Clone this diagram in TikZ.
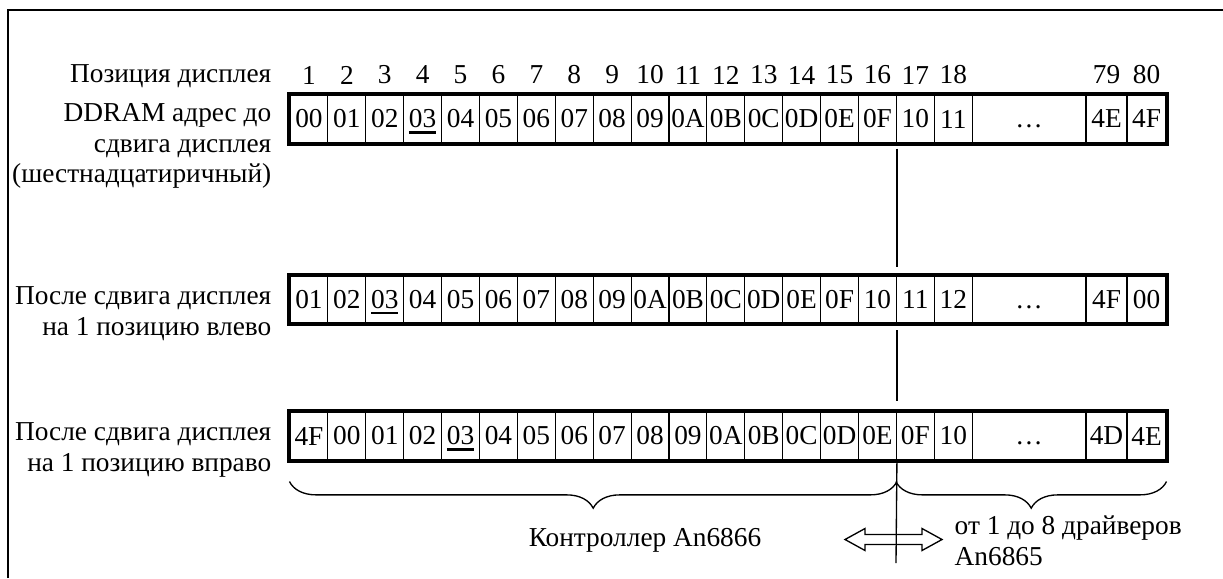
\documentclass[tikz,border=0pt]{standalone}
\usepackage{fontspec}
\setmainfont{Liberation Serif}
\usepackage{tikz}
\usetikzlibrary{positioning,calc,decorations.pathreplacing}

\tikzset{
  cell/.style={draw, line width=0.8pt, minimum width=28.425pt, minimum height=36pt, inner sep=0pt},
  rowbox/.style={line width=3pt},
  shiftline/.style={line width=1pt},
  underbrace/.style={decorate, decoration={brace, mirror, amplitude=20pt}, line width=1pt},
}
\newcommand{\ulcell}[1]{\setbox0=\hbox{#1}\rlap{\smash{\rule[-4.3pt]{\wd0}{2pt}}}\box0}
\newcommand{\celldots}{\vphantom{0}…}

\begin{document}
\begin{tikzpicture}[x=0.75pt,y=0.75pt,yscale=-1,xscale=1,font=\fontsize{20.5}{23}\selectfont]
\useasboundingbox (0,0) rectangle (1223,578);

%Frame
\draw[line width=1.5pt] (8,578) -- (8,10) -- (1223,10);

% Text Node
\draw (276,76) node [anchor=east] (poslbl) {Позиция дисплея};
\foreach \n in {1,...,18}
  \draw ({290+37.9*(\n-0.5)},75) node (pos\n) {\n};
\draw (1106.5,75) node (pos79) {79};
\draw (1146.5,75) node (pos80) {80};

%Row 1
\foreach \t [count=\i] in {00,01,02,{\ulcell{03}},04,05,06,07,08,09,0A,0B,0C,0D,0E,0F,10,11}
  \node[cell] (a\i) at ({290+37.9*(\i-0.5)},119) {\t};
\node[cell, minimum width=85.35pt] (a19) at (1029.1,119) {\celldots};
\node[cell, minimum width=30.75pt] (a20) at (1106.5,119) {4E};
\node[cell, minimum width=29.25pt] (a21) at (1146.5,119) {4F};
\draw[rowbox] (a1.north west) rectangle (a21.south east);
% Text Node
\draw (276,146) node [anchor=east, align=right] (ddramlbl) {DDRAM адрес до\\сдвига дисплея\\(шестнадцатиричный)};

%Row 2
\foreach \t [count=\i] in {01,02,{\ulcell{03}},04,05,06,07,08,09,0A,0B,0C,0D,0E,0F,10,11,12}
  \node[cell] (b\i) at ({290+37.9*(\i-0.5)},299.5) {\t};
\node[cell, minimum width=85.35pt] (b19) at (1029.1,299.5) {\celldots};
\node[cell, minimum width=30.75pt] (b20) at (1106.5,299.5) {4F};
\node[cell, minimum width=29.25pt] (b21) at (1146.5,299.5) {00};
\draw[rowbox] (b1.north west) rectangle (b21.south east);
% Text Node
\draw (276,314) node [anchor=east, align=right] (leftlbl) {После сдвига дисплея\\на 1 позицию влево};

%Row 3
\foreach \t [count=\i] in {4F,00,01,02,{\ulcell{03}},04,05,06,07,08,09,0A,0B,0C,0D,0E,0F,10}
  \node[cell] (c\i) at ({290+37.9*(\i-0.5)},436) {\t};
\node[cell, minimum width=85.35pt] (c19) at (1029.1,436) {\celldots};
\node[cell, minimum width=30.75pt] (c20) at (1106.5,436) {4D};
\node[cell, minimum width=29.25pt] (c21) at (1146.5,436) {4E};
\draw[rowbox] (c1.north west) rectangle (c21.south east);
% Text Node
\draw (276,450) node [anchor=east, align=right] (rightlbl) {После сдвига дисплея\\на 1 позицию вправо};

%Straight Lines
\draw[shiftline] ($(a16.south east)+(0,5)$) -- ($(b16.north east)+(0,-8)$);
\draw[shiftline] ($(b16.south east)+(0,6)$) -- ($(c16.north east)+(0,-10)$);

%Braces
\draw[underbrace] ($(c1.south west)+(0,21)$) -- ($(c16.south east)+(0,21)$);
\draw[underbrace] ($(c17.south west)+(0,21)$) -- ($(c21.south east)+(0,21)$);

%Double arrow
\draw[line width=1pt, fill=white] (845,539.5) -- (865,528.5) -- (865,534.5) -- (922,534.5) -- (922,528.5) -- (942,539.5) -- (922,550.5) -- (922,544.5) -- (865,544.5) -- (865,550.5) -- cycle;
\coordinate (lineend) at (896,563);
\draw[shiftline] (c16.south east) -- (lineend);

% Text Node
\draw (645,540) node (ctrl) {Контроллер An6866};
% Text Node
\draw (950,541) node [anchor=west, align=left] (drv) {от 1 до 8 драйверов\\An6865};

\end{tikzpicture}
\end{document}
